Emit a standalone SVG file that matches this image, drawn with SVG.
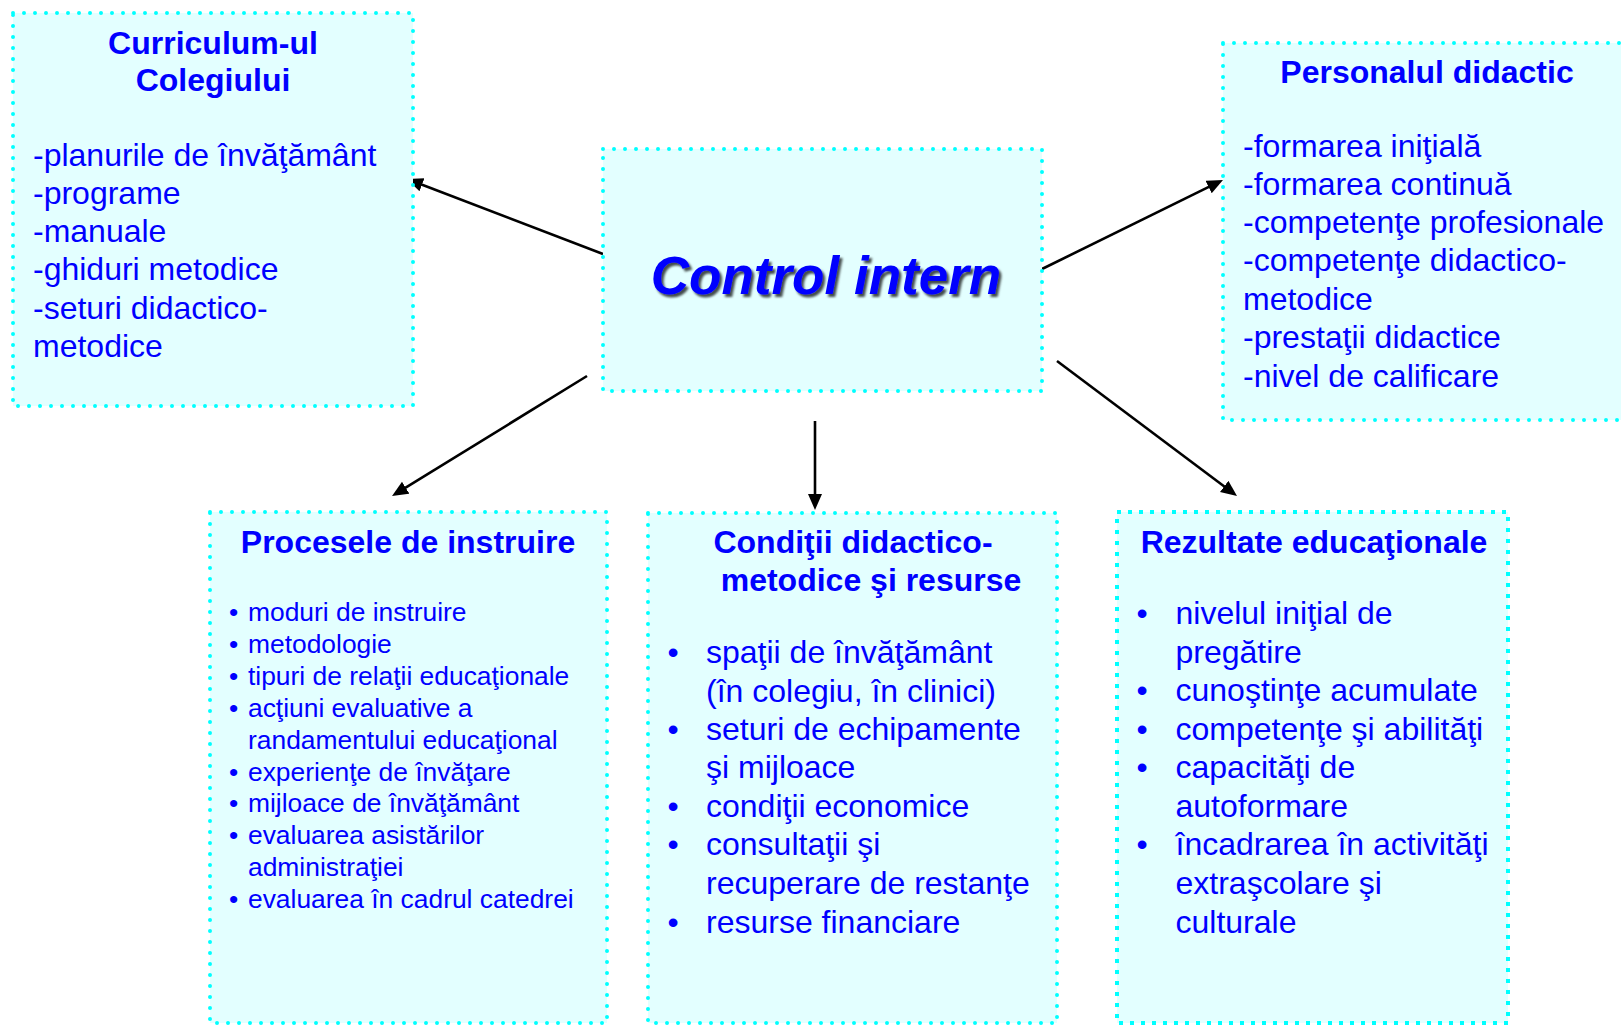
<svg xmlns="http://www.w3.org/2000/svg" width="1621" height="1026" viewBox="0 0 1621 1026">
<style>
.box{fill:#E3FFFF;stroke:#00FFFF;stroke-width:4;stroke-dasharray:0 11;stroke-linecap:round}
.sq{stroke-dasharray:4 7;stroke-linecap:butt}
.t{font-family:"Liberation Sans",Arial,sans-serif;font-weight:bold;font-size:32px;fill:#0000FF;text-anchor:middle}
.b{font-family:"Liberation Sans",Arial,sans-serif;font-size:32px;fill:#0000FF}
.s{font-family:"Liberation Sans",Arial,sans-serif;font-size:26.4px;fill:#0000FF}
.main{font-family:"Liberation Sans",Arial,sans-serif;font-weight:bold;font-style:italic;font-size:53px;fill:#0000FF;text-anchor:middle}
.c{stroke:#000;stroke-width:2.6;fill:none;marker-end:url(#ah)}
</style>
<defs>
<marker id="ah" markerUnits="userSpaceOnUse" markerWidth="17" markerHeight="15" refX="11" refY="7" orient="auto">
<path d="M0,0 L16,7 L0,14 z" fill="#000"/>
</marker>
<filter id="sh" x="-10%" y="-30%" width="130%" height="160%">
<feDropShadow dx="2.5" dy="3" stdDeviation="1.2" flood-color="#000" flood-opacity="0.7"/>
</filter>
</defs>
<rect width="1621" height="1026" fill="#fff"/>

<g id="connectors">
<line class="c" x1="603" y1="254" x2="411.7" y2="180.8"/>
<line class="c" x1="1042" y1="269" x2="1218.5" y2="182.2"/>
<line class="c" x1="587" y1="376" x2="396.3" y2="493.4"/>
<line class="c" x1="815" y1="421" x2="815" y2="505"/>
<line class="c" x1="1057" y1="361" x2="1233" y2="493"/>
</g>

<g id="curriculum">
<rect class="box" x="13" y="13" width="400" height="393"/>
<text class="t" x="213" y="54">Curriculum-ul</text>
<text class="t" x="213" y="91">Colegiului</text>
<text class="b" x="33" y="166">-planurile de învăţământ</text>
<text class="b" x="33" y="204">-programe</text>
<text class="b" x="33" y="242">-manuale</text>
<text class="b" x="33" y="280">-ghiduri metodice</text>
<text class="b" x="33" y="318.5">-seturi didactico-</text>
<text class="b" x="33" y="357">metodice</text>
</g>

<g id="control">
<rect class="box" x="603" y="149" width="439" height="242"/>
<text class="main" x="826" y="294" filter="url(#sh)">Control intern</text>
</g>

<g id="personal">
<rect class="box" x="1223" y="43" width="410" height="377"/>
<text class="t" x="1427" y="83">Personalul didactic</text>
<text class="b" x="1243" y="157">-formarea iniţială</text>
<text class="b" x="1243" y="195">-formarea continuă</text>
<text class="b" x="1243" y="233">-competenţe profesionale</text>
<text class="b" x="1243" y="271">-competenţe didactico-</text>
<text class="b" x="1243" y="309.5">metodice</text>
<text class="b" x="1243" y="347.5">-prestaţii didactice</text>
<text class="b" x="1243" y="386.5">-nivel de calificare</text>
</g>

<g id="procesele">
<rect class="box" x="210" y="512" width="397" height="511"/>
<text class="t" x="408" y="553">Procesele de instruire</text>
<text class="s" x="229" y="620.5">•</text><text class="s" x="248" y="620.5">moduri de instruire</text>
<text class="s" x="229" y="652.5">•</text><text class="s" x="248" y="652.5">metodologie</text>
<text class="s" x="229" y="684.5">•</text><text class="s" x="248" y="684.5">tipuri de relaţii educaţionale</text>
<text class="s" x="229" y="716.5">•</text><text class="s" x="248" y="716.5">acţiuni evaluative a</text>
<text class="s" x="248" y="748.5">randamentului educaţional</text>
<text class="s" x="229" y="780.5">•</text><text class="s" x="248" y="780.5">experienţe de învăţare</text>
<text class="s" x="229" y="812">•</text><text class="s" x="248" y="812">mijloace de învăţământ</text>
<text class="s" x="229" y="844">•</text><text class="s" x="248" y="844">evaluarea asistărilor</text>
<text class="s" x="248" y="876">administraţiei</text>
<text class="s" x="229" y="908">•</text><text class="s" x="248" y="908">evaluarea în cadrul catedrei</text>
</g>

<g id="conditii">
<rect class="box" x="648" y="513" width="409" height="510"/>
<text class="t" x="853" y="553">Condiţii didactico-</text>
<text class="t" x="871" y="591">metodice şi resurse</text>
<text class="b" x="667.5" y="663">•</text><text class="b" x="706" y="663">spaţii de învăţământ</text>
<text class="b" x="706" y="701.5">(în colegiu, în clinici)</text>
<text class="b" x="667.5" y="740">•</text><text class="b" x="706" y="740">seturi de echipamente</text>
<text class="b" x="706" y="778">şi mijloace</text>
<text class="b" x="667.5" y="816.5">•</text><text class="b" x="706" y="816.5">condiţii economice</text>
<text class="b" x="667.5" y="855">•</text><text class="b" x="706" y="855">consultaţii şi</text>
<text class="b" x="706" y="893.5">recuperare de restanţe</text>
<text class="b" x="667.5" y="932.5">•</text><text class="b" x="706" y="932.5">resurse financiare</text>
</g>

<g id="rezultate">
<rect class="box sq" x="1117" y="512" width="391" height="511"/>
<text class="t" x="1314" y="553">Rezultate educaţionale</text>
<text class="b" x="1136.5" y="624">•</text><text class="b" x="1175.5" y="624">nivelul iniţial de</text>
<text class="b" x="1175.5" y="662.5">pregătire</text>
<text class="b" x="1136.5" y="701">•</text><text class="b" x="1175.5" y="701">cunoştinţe acumulate</text>
<text class="b" x="1136.5" y="739.5">•</text><text class="b" x="1175.5" y="739.5">competenţe şi abilităţi</text>
<text class="b" x="1136.5" y="778">•</text><text class="b" x="1175.5" y="778">capacităţi de</text>
<text class="b" x="1175.5" y="816.5">autoformare</text>
<text class="b" x="1136.5" y="855">•</text><text class="b" x="1175.5" y="855">încadrarea în activităţi</text>
<text class="b" x="1175.5" y="893.5">extraşcolare şi</text>
<text class="b" x="1175.5" y="932.5">culturale</text>
</g>
</svg>
